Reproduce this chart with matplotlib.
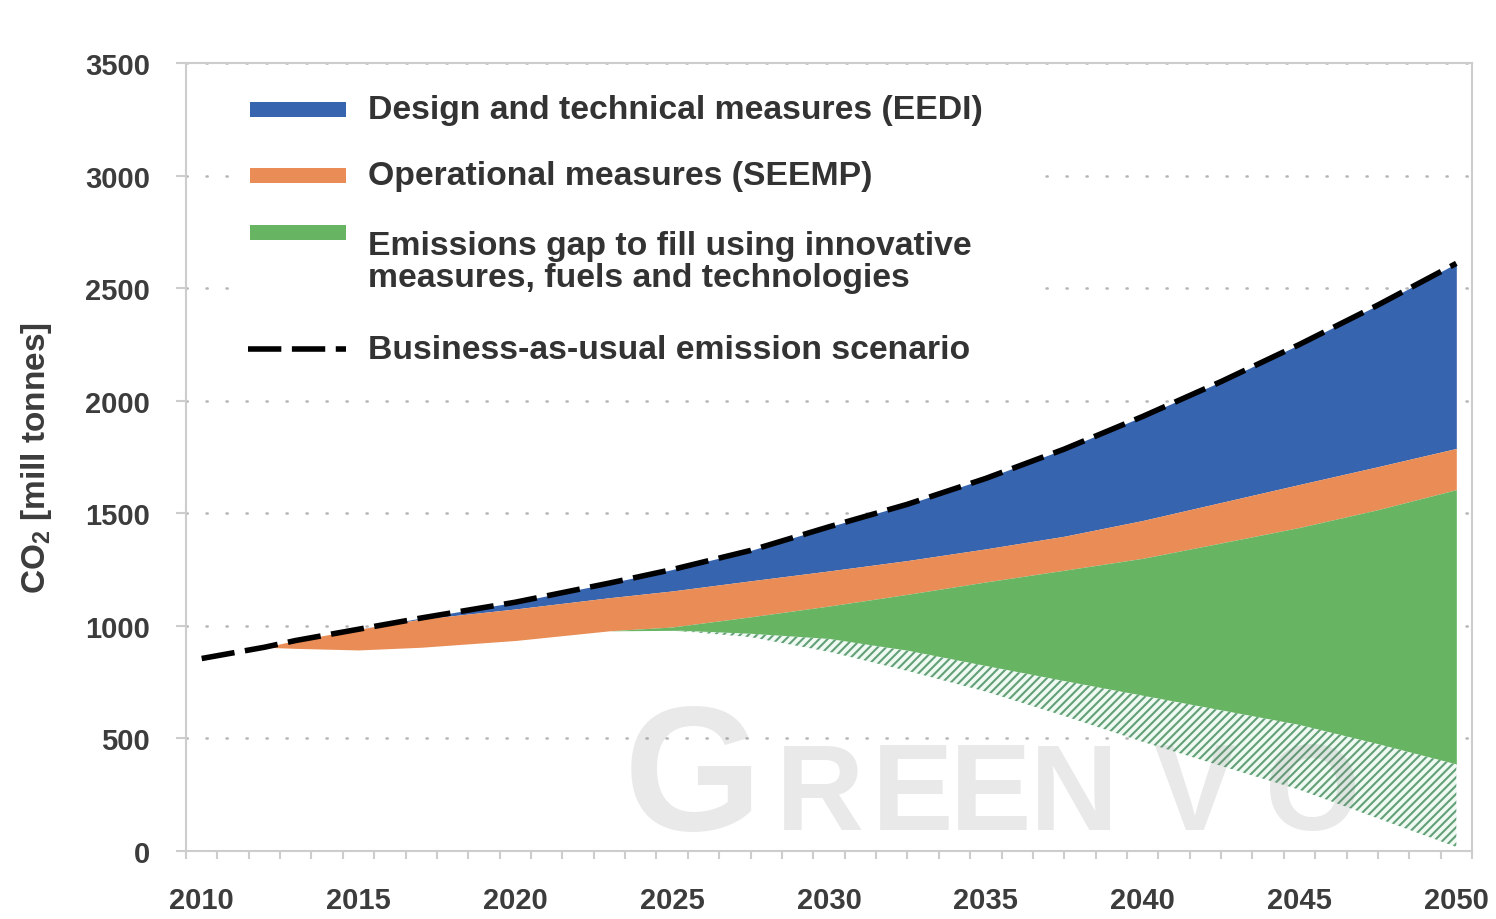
import numpy as np
import matplotlib.pyplot as plt
from matplotlib.patches import Rectangle
from matplotlib.lines import Line2D

plt.rcParams['font.family'] = ['Liberation Sans', 'DejaVu Sans']
plt.rcParams['hatch.linewidth'] = 1.5

# values (mill tonnes CO2)
years = [2010, 2012, 2013, 2015, 2017, 2020, 2023, 2025, 2027.5, 2030,
         2032.5, 2035, 2037.5, 2040, 2042.5, 2045, 2047.5, 2050]
bau = [855, 905, 935, 985, 1035, 1105, 1190, 1250, 1335, 1440,
       1540, 1655, 1785, 1930, 2085, 2250, 2425, 2610]
eedi = [855, 905, 935, 985, 1030, 1075, 1125, 1155, 1200, 1244,
        1290, 1342, 1398, 1468, 1548, 1628, 1707, 1788]
seemp = [855, 905, 900, 893, 905, 935, 978, 995, 1040, 1088,
         1140, 1195, 1247, 1300, 1368, 1437, 1516, 1605]
gap_low = [855, 905, 900, 893, 905, 935, 978, 980, 965, 942,
           890, 822, 755, 690, 625, 560, 475, 385]
hatch_low = [855, 905, 900, 893, 905, 935, 978, 980, 950, 885,
             800, 708, 600, 485, 378, 272, 145, 18]

x_ticks = [2010, 2015, 2020, 2025, 2030, 2035, 2040, 2045, 2050]
x_labels = ['2010', '2015', '2020', '2025', '2030', '2035', '2040', '2045', '2050']
y_ticks = [0, 500, 1000, 1500, 2000, 2500, 3000, 3500]

legend_labels = ['Design and technical measures (EEDI)',
                 'Operational measures (SEEMP)',
                 'Emissions gap to fill using innovative\nmeasures, fuels and technologies',
                 'Business-as-usual emission scenario']

BLUE = '#3764ae'
ORANGE = '#e98c55'
GREEN = '#67b563'
HATCH_C = '#639f77'
HATCH_BG = '#effaf3'
GRAY_TXT = '#3c3c3c'
SPINE = '#cdcdcd'
BAU_DASH = (0, (6, 1.9))
BAU_LW = 4.0

fig = plt.figure(figsize=(14.96, 9.2), dpi=100)
ax = fig.add_axes([186 / 1496, 68 / 920, 1286 / 1496, 788 / 920])

# stacked bands
ax.fill_between(years, eedi, bau, color=BLUE, lw=0, zorder=2)
ax.fill_between(years, seemp, eedi, color=ORANGE, lw=0, zorder=2)
ax.fill_between(years, gap_low, seemp, color=GREEN, lw=0, zorder=2)
ax.fill_between(years, hatch_low, gap_low, facecolor=HATCH_BG, edgecolor=HATCH_C,
                hatch='////', lw=0, zorder=2)

# business as usual line
ax.plot(years, bau, color='black', lw=BAU_LW, ls=BAU_DASH, zorder=4)

ax.set_xlim(2009.5, 2050.5)
ax.set_ylim(0, 3500)

# axes styling
for s in ax.spines.values():
    s.set_color(SPINE)
    s.set_linewidth(1.5)
ax.set_axisbelow(True)
ax.yaxis.grid(True, color='#b5b5b5', lw=1.8, ls=(0, (0.5, 7.5)), dash_capstyle='round')

ax.set_yticks(y_ticks)
ax.set_yticklabels([str(v) for v in y_ticks])
ax.tick_params(axis='y', length=7, width=1.5, color=SPINE, pad=19,
               labelsize=21, labelcolor=GRAY_TXT)

ax.set_xticks(x_ticks)
ax.set_xticklabels(x_labels)
ax.set_xticks(np.arange(2009.5, 2051, 1), minor=True)
ax.tick_params(axis='x', which='major', length=0, pad=25, labelsize=21, labelcolor=GRAY_TXT)
ax.tick_params(axis='x', which='minor', length=6, width=1.5, color=SPINE)
for lbl in ax.get_xticklabels() + ax.get_yticklabels():
    lbl.set_fontweight('bold')

ax.set_ylabel(r'CO$_{\mathregular{2}}$ [mill tonnes]', fontsize=24, fontweight='bold',
              color=GRAY_TXT)
ax.yaxis.set_label_coords(-0.103, 0.5)

# legend drawn by hand, like the original
ax.add_patch(Rectangle((0.042, 0.605), 0.618, 0.38, transform=ax.transAxes,
                       facecolor='white', edgecolor='none', zorder=1))
sw_x, sw_w, sw_h = 0.0498, 0.0746, 0.019
for col, yc in [(BLUE, 0.941), (ORANGE, 0.857), (GREEN, 0.7855)]:
    ax.add_patch(Rectangle((sw_x, yc - sw_h / 2), sw_w, sw_h, transform=ax.transAxes,
                           facecolor=col, edgecolor='none', zorder=5))
ax.add_line(Line2D([0.0482, 0.1244], [0.637, 0.637], transform=ax.transAxes,
                   color='black', lw=BAU_LW, ls=BAU_DASH, zorder=5))
for lab, yc in zip(legend_labels, [0.9416, 0.8566, 0.748, 0.637]):
    ax.text(0.1415, yc, lab, transform=ax.transAxes, fontsize=24.3, fontweight='bold',
            color='#333333', va='center', ha='left', linespacing=1.05, zorder=5)

# faint watermark
wm_base = 1 - 830 / 920
fig.text(624 / 1496, wm_base, 'G', fontsize=128, fontweight='bold',
         color='#808080', alpha=0.17, va='baseline', ha='left', zorder=10)
for ch, px in zip('REENVO', [776, 872, 950, 1030, 1153, 1265]):
    fig.text(px / 1496, wm_base, ch, fontsize=88, fontweight='bold',
             color='#808080', alpha=0.17, va='baseline', ha='left', zorder=10)

fig.savefig('out.png', dpi=100)
